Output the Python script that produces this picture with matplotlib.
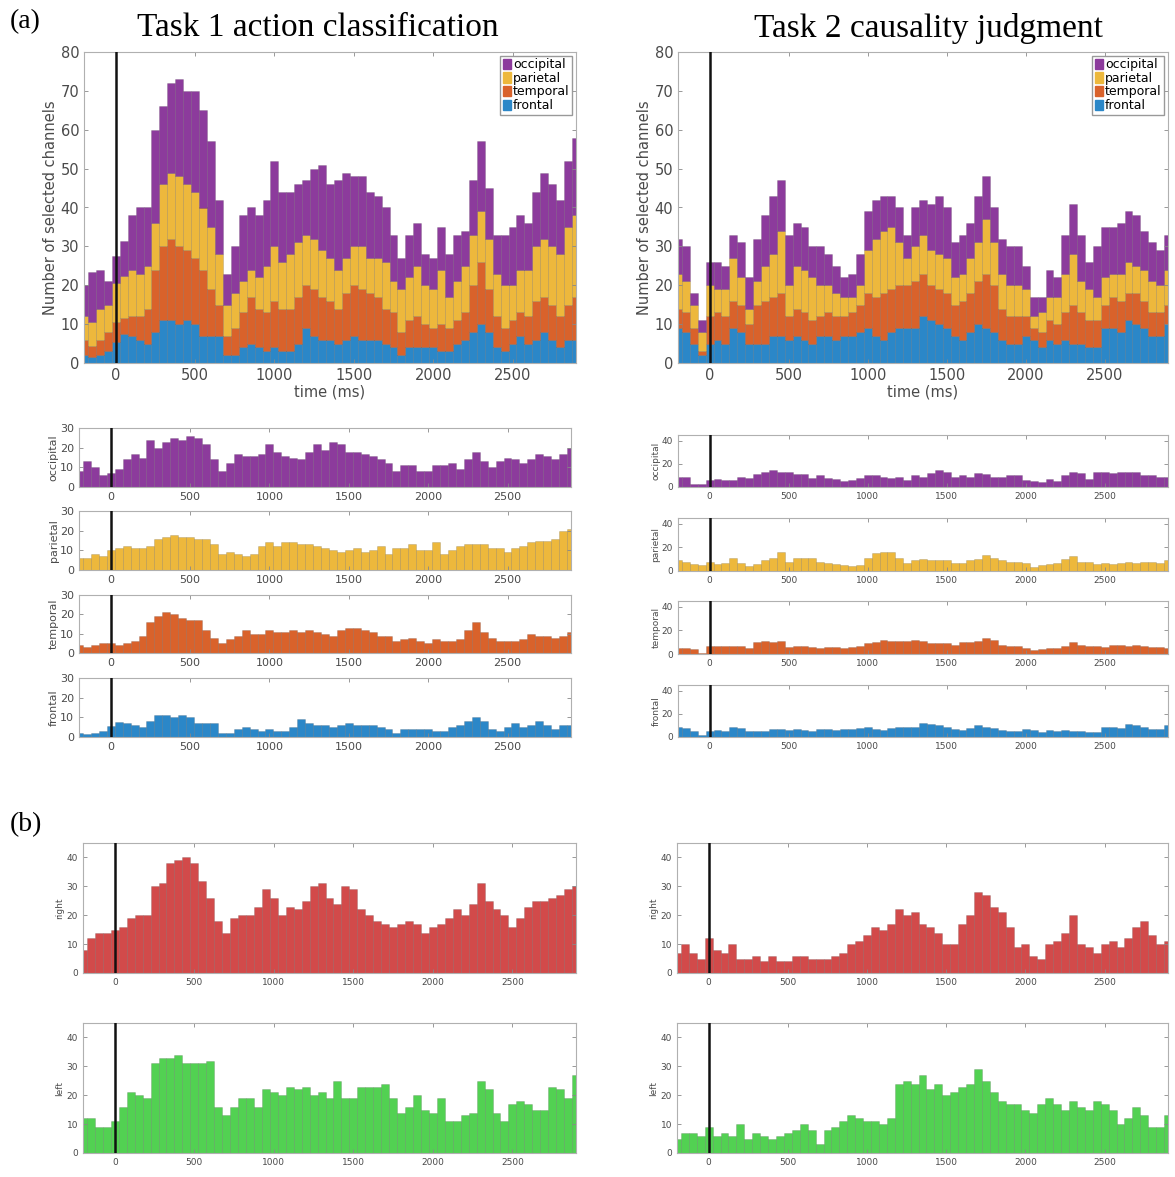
import numpy as np
import matplotlib
matplotlib.use("Agg")
import matplotlib.pyplot as plt
from matplotlib.patches import Patch

# time bins (ms), 50 ms steps
t = np.arange(-200, 2901, 50)

# ---- Task 1 action classification ----
occ1 = [8, 13, 10, 6, 7, 9, 14, 17, 15, 24, 20, 23, 25, 24, 26, 25, 22, 14, 8, 12,
        17, 16, 16, 17, 22, 18, 16, 15, 14, 18, 22, 19, 23, 22, 18, 18, 17, 16, 14, 12,
        8, 11, 11, 8, 8, 11, 11, 12, 9, 14, 18, 13, 10, 13, 15, 14, 12, 14, 17, 16,
        14, 17, 20]
par1 = [6, 6, 8, 7, 10, 11, 12, 11, 11, 12, 16, 17, 18, 17, 17, 16, 16, 13, 8, 9,
        8, 7, 8, 12, 14, 12, 14, 14, 13, 13, 12, 11, 10, 9, 10, 11, 9, 10, 12, 8,
        11, 11, 13, 10, 10, 14, 8, 10, 12, 13, 13, 13, 11, 11, 9, 11, 12, 14, 15, 15,
        16, 20, 21]
tem1 = [4, 3, 4, 5, 5, 4, 5, 6, 9, 16, 19, 21, 20, 18, 17, 17, 12, 8, 5, 7,
        9, 12, 10, 10, 12, 11, 11, 12, 11, 12, 11, 10, 9, 12, 13, 13, 12, 11, 9, 9,
        6, 7, 8, 6, 5, 7, 6, 6, 7, 12, 16, 11, 8, 6, 6, 6, 7, 10, 9, 9,
        8, 9, 11]
fro1 = [2, 1.5, 2, 3, 5.5, 7.5, 7, 6, 5, 8, 11, 11, 10, 11, 10, 7, 7, 7, 2, 2,
        4, 5, 4, 3, 4, 3, 3, 5, 9, 7, 6, 6, 5, 6, 7, 6, 6, 6, 5, 4,
        2, 4, 4, 4, 4, 3, 3, 5, 6, 8, 10, 8, 4, 3, 5, 7, 5, 6, 8, 6,
        4, 6, 6]
right1 = [8, 12, 14, 14, 15, 16, 19, 20, 20, 30, 31, 38, 39, 40, 38, 32, 26, 18, 14, 19,
          20, 20, 23, 29, 26, 20, 23, 22, 25, 30, 31, 26, 24, 30, 29, 22, 20, 18, 17, 16,
          17, 18, 17, 14, 16, 17, 19, 22, 20, 24, 31, 25, 22, 20, 16, 19, 23, 25, 25, 26,
          27, 29, 30]
left1 = [12, 12, 9, 9, 11, 16, 21, 20, 19, 31, 33, 33, 34, 31, 31, 31, 32, 16, 13, 16,
         19, 19, 16, 22, 21, 20, 23, 22, 23, 20, 21, 19, 25, 19, 19, 23, 23, 23, 24, 19,
         14, 16, 20, 15, 14, 19, 11, 11, 13, 14, 25, 22, 14, 11, 17, 18, 17, 15, 15, 23,
         22, 19, 27]

# ---- Task 2 causality judgment ----
occ2 = [9, 9, 3, 3, 6, 7, 6, 6, 9, 8, 11, 13, 15, 13, 13, 11, 11, 8, 10, 8,
        7, 5, 6, 8, 10, 10, 9, 8, 9, 6, 10, 9, 12, 15, 13, 9, 10, 9, 12, 11,
        9, 9, 10, 10, 6, 5, 4, 7, 5, 10, 13, 12, 7, 13, 13, 12, 13, 13, 13, 10,
        10, 9, 9]
par2 = [9, 8, 6, 5, 8, 6, 7, 11, 7, 4, 6, 9, 11, 16, 8, 11, 11, 11, 8, 7,
        6, 5, 4, 5, 11, 15, 16, 16, 11, 7, 9, 10, 9, 9, 9, 7, 7, 9, 10, 14,
        11, 9, 8, 8, 7, 3, 5, 6, 7, 10, 13, 8, 8, 6, 7, 6, 7, 8, 7, 8,
        8, 7, 9]
tem2 = [5, 5, 4, 1, 7, 7, 7, 7, 7, 5, 10, 11, 10, 11, 6, 7, 7, 6, 5, 6,
        6, 5, 6, 7, 9, 10, 12, 11, 11, 11, 12, 11, 9, 9, 9, 8, 10, 10, 11, 14,
        12, 8, 7, 7, 5, 3, 4, 5, 5, 7, 10, 8, 7, 7, 6, 8, 8, 7, 8, 7,
        6, 6, 5]
fro2 = [9, 8, 5, 2, 5, 6, 5, 9, 8, 5, 5, 5, 7, 7, 6, 7, 6, 5, 7, 7,
        6, 7, 7, 8, 9, 7, 6, 8, 9, 9, 9, 12, 11, 10, 9, 7, 6, 8, 10, 9,
        8, 6, 5, 5, 7, 6, 4, 6, 5, 6, 5, 5, 4, 4, 9, 9, 8, 11, 10, 9,
        7, 7, 10]
right2 = [7, 10, 7, 5, 12, 8, 7, 10, 5, 5, 6, 4, 6, 4, 4, 6, 6, 5, 5, 5,
          6, 7, 10, 11, 13, 16, 15, 17, 22, 20, 21, 17, 16, 14, 10, 10, 17, 20, 28, 27,
          23, 21, 16, 9, 10, 6, 5, 10, 11, 14, 20, 10, 9, 7, 10, 11, 9, 12, 16, 18,
          13, 10, 11]
left2 = [5, 7, 7, 6, 9, 6, 7, 6, 10, 5, 7, 6, 5, 6, 7, 8, 10, 8, 3, 8,
         9, 11, 13, 12, 11, 11, 10, 12, 24, 25, 24, 27, 22, 24, 20, 21, 23, 24, 29, 25,
         21, 18, 17, 17, 15, 14, 17, 19, 17, 15, 18, 16, 15, 18, 17, 15, 10, 12, 16, 13,
         9, 9, 13]

regions = ["occipital", "parietal", "temporal", "frontal"]
colors = {"occipital": "#8c3b9c", "parietal": "#edb83c",
          "temporal": "#d9622b", "frontal": "#2b87c8"}
red = "#d24a4a"
green = "#52d152"
edge = (0, 0, 0, 0.22)
spine_col = "#b0b0b0"
tick_col = "#4a4a4a"

W, H = 1175, 1177
fig = plt.figure(figsize=(W / 100, H / 100), dpi=100)


def add_ax(x0, x1, y0, y1):
    # pixel box -> figure fraction
    return fig.add_axes([x0 / W, 1 - y1 / H, (x1 - x0) / W, (y1 - y0) / H])


def style(ax, fs, ylim, yticks):
    ax.set_xlim(-200, 2900)
    ax.set_ylim(*ylim)
    ax.set_yticks(yticks)
    ax.set_xticks([0, 500, 1000, 1500, 2000, 2500])
    ax.tick_params(direction="in", top=True, right=True, labelsize=fs,
                   colors=tick_col, length=3, width=0.6, color="#888888")
    for s in ax.spines.values():
        s.set_color(spine_col)
        s.set_linewidth(0.8)
    ax.axvline(0, color="#111111", lw=1.8, zorder=5)


def stacked(ax, data):
    bottom = np.zeros(len(t))
    for r in ["frontal", "temporal", "parietal", "occipital"]:
        vals = np.array(data[r], dtype=float)
        ax.bar(t, vals, width=50, bottom=bottom, color=colors[r],
               edgecolor=edge, linewidth=0.4)
        bottom += vals
    style(ax, 10.5, (0, 80), range(0, 81, 10))
    ax.set_xlabel("time (ms)", fontsize=10.5, color=tick_col, labelpad=1)
    ax.set_ylabel("Number of selected channels", fontsize=10.5, color=tick_col,
                  labelpad=2)
    handles = [Patch(color=colors[r]) for r in regions]
    ax.legend(handles, regions, loc="upper right", fontsize=9,
              handlelength=0.7, handleheight=0.9, handletextpad=0.15,
              borderpad=0.2, labelspacing=0.05, borderaxespad=0.3,
              fancybox=False, edgecolor="#999999", framealpha=1)


task1 = {"occipital": occ1, "parietal": par1, "temporal": tem1, "frontal": fro1}
task2 = {"occipital": occ2, "parietal": par2, "temporal": tem2, "frontal": fro2}

# (a) stacked totals
stacked(add_ax(84, 576, 52, 363), task1)
stacked(add_ax(678, 1168, 52, 363), task2)

# (a) per-region panels
rows_l = [(428, 487), (511, 570), (595, 653), (678, 737)]
rows_r = [(435, 487), (518, 571), (601, 654), (685, 737)]
for r, (y0, y1) in zip(regions, rows_l):
    ax = add_ax(79, 571, y0, y1)
    ax.bar(t, task1[r], width=50, color=colors[r], edgecolor=edge, linewidth=0.4)
    style(ax, 8, (0, 30), [0, 10, 20, 30])
    ax.set_ylabel(r, fontsize=8, color=tick_col, labelpad=1)
for r, (y0, y1) in zip(regions, rows_r):
    ax = add_ax(678, 1168, y0, y1)
    ax.bar(t, task2[r], width=50, color=colors[r], edgecolor=edge, linewidth=0.4)
    style(ax, 6.5, (0, 45), [0, 20, 40])
    ax.set_ylabel(r, fontsize=6.5, color=tick_col, labelpad=1)

# (b) right / left hemisphere
for vals, x0, x1, y0, y1, col, lab in [
        (right1, 83, 576, 843, 973, red, "right"),
        (left1, 83, 576, 1023, 1153, green, "left"),
        (right2, 677, 1168, 843, 973, red, "right"),
        (left2, 677, 1168, 1023, 1153, green, "left")]:
    ax = add_ax(x0, x1, y0, y1)
    ax.bar(t, vals, width=50, color=col, edgecolor=edge, linewidth=0.4)
    style(ax, 6.5, (0, 45), [0, 10, 20, 30, 40])
    ax.set_ylabel(lab, fontsize=6.5, color=tick_col, labelpad=2)

fig.text(318 / W, 1 - 28 / H, "Task 1 action classification", ha="center",
         va="center", fontsize=24, family="Liberation Serif")
fig.text(928 / W, 1 - 28 / H, "Task 2 causality judgment", ha="center",
         va="center", fontsize=24, family="Liberation Serif")
fig.text(10 / W, 1 - 22 / H, "(a)", ha="left", va="center", fontsize=20,
         family="Liberation Serif")
fig.text(10 / W, 1 - 825 / H, "(b)", ha="left", va="center", fontsize=20,
         family="Liberation Serif")

fig.savefig("out.png", dpi=100)
